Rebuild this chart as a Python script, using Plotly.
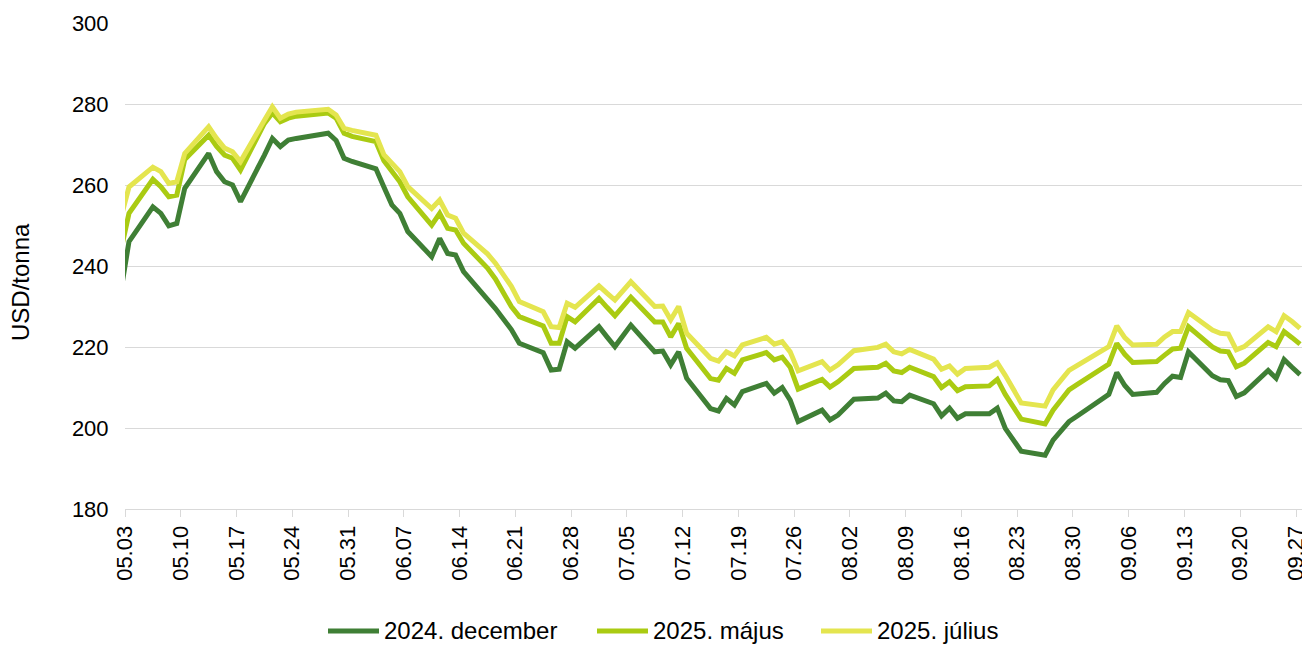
import pandas as pd
import plotly.graph_objects as go

dates = [
    "2024-05-02", "2024-05-03",
    "2024-05-06", "2024-05-07", "2024-05-08", "2024-05-09", "2024-05-10",
    "2024-05-13", "2024-05-14", "2024-05-15", "2024-05-16", "2024-05-17",
    "2024-05-20", "2024-05-21", "2024-05-22", "2024-05-23", "2024-05-24",
    "2024-05-28", "2024-05-29", "2024-05-30", "2024-05-31",
    "2024-06-03", "2024-06-04", "2024-06-05", "2024-06-06", "2024-06-07",
    "2024-06-10", "2024-06-11", "2024-06-12", "2024-06-13", "2024-06-14",
    "2024-06-17", "2024-06-18", "2024-06-20", "2024-06-21",
    "2024-06-24", "2024-06-25", "2024-06-26", "2024-06-27", "2024-06-28",
    "2024-07-01", "2024-07-02", "2024-07-03", "2024-07-05",
    "2024-07-08", "2024-07-09", "2024-07-10", "2024-07-11", "2024-07-12",
    "2024-07-15", "2024-07-16", "2024-07-17", "2024-07-18", "2024-07-19",
    "2024-07-22", "2024-07-23", "2024-07-24", "2024-07-25", "2024-07-26",
    "2024-07-29", "2024-07-30", "2024-07-31", "2024-08-01", "2024-08-02",
    "2024-08-05", "2024-08-06", "2024-08-07", "2024-08-08", "2024-08-09",
    "2024-08-12", "2024-08-13", "2024-08-14", "2024-08-15", "2024-08-16",
    "2024-08-19", "2024-08-20", "2024-08-21", "2024-08-22", "2024-08-23",
    "2024-08-26", "2024-08-27", "2024-08-28", "2024-08-29", "2024-08-30",
    "2024-09-03", "2024-09-04", "2024-09-05", "2024-09-06",
    "2024-09-09", "2024-09-10", "2024-09-11", "2024-09-12", "2024-09-13",
    "2024-09-16", "2024-09-17", "2024-09-18", "2024-09-19", "2024-09-20",
    "2024-09-23", "2024-09-24", "2024-09-25", "2024-09-26", "2024-09-27",
]

dec_2024 = [
    234.0, 246.0,
    254.6, 253.0, 249.9, 250.5, 259.2,
    267.8, 263.3, 260.8, 260.0, 255.9,
    267.4, 271.5, 269.5, 271.1, 271.5,
    272.8, 271.0, 266.6, 265.8,
    264.0, 259.5, 255.1, 253.0, 248.5,
    242.3, 246.8, 243.1, 242.7, 238.6,
    232.1, 229.5, 224.3, 220.9,
    218.6, 214.3, 214.5, 221.3, 219.7,
    225.0, 222.5, 220.1, 225.4,
    218.8, 219.0, 215.6, 218.8, 212.3,
    204.8, 204.2, 207.3, 205.7, 209.0,
    211.0, 208.6, 210.0, 206.9, 201.6,
    204.4, 202.0, 203.2, 205.2, 207.1,
    207.4, 208.6, 206.7, 206.5, 208.1,
    206.0, 203.0, 204.9, 202.4, 203.5,
    203.5, 204.9, 199.9, 197.2, 194.3,
    193.3, 197.0, 199.3, 201.6, 202.9,
    208.3, 213.7, 210.5, 208.3,
    208.8, 211.0, 212.8, 212.5, 218.8,
    212.9, 211.9, 211.7, 207.8, 208.7,
    214.2, 212.3, 216.9, 215.0, 213.2,
]

may_2025 = [
    244.0, 253.0,
    261.4, 259.6, 257.1, 257.5, 266.3,
    272.3, 269.5, 267.4, 266.6, 263.7,
    275.2, 277.8, 275.6, 276.5, 277.0,
    277.8, 276.5, 272.8, 272.0,
    270.7, 266.0, 263.3, 260.8, 257.1,
    250.1, 253.0, 249.3, 248.9, 245.6,
    239.5, 236.8, 230.0, 227.5,
    225.2, 220.9, 220.9, 227.5, 226.2,
    232.0, 229.8, 227.7, 232.3,
    226.2, 226.2, 222.5, 225.8, 219.7,
    212.2, 211.8, 214.7, 213.5, 216.8,
    218.6, 216.8, 217.5, 215.0, 209.6,
    212.0, 210.1, 211.4, 213.0, 214.7,
    215.0, 216.0, 214.1, 213.7, 215.0,
    212.7, 210.0, 211.4, 209.2, 210.2,
    210.4, 212.0, 208.3, 205.0, 202.2,
    201.0, 204.4, 206.9, 209.4, 210.7,
    215.8, 220.9, 218.2, 216.2,
    216.4, 218.0, 219.5, 219.7, 225.0,
    220.0, 219.0, 218.8, 215.1, 216.0,
    221.1, 220.1, 223.8, 222.3, 220.7,
]

jul_2025 = [
    252.0, 259.5,
    264.4, 263.3, 260.4, 260.8, 267.8,
    274.4, 271.5, 269.1, 268.2, 265.8,
    276.0, 279.3, 276.5, 277.5, 278.0,
    278.7, 277.3, 274.0, 273.5,
    272.3, 267.5, 265.4, 263.3, 259.6,
    254.2, 256.3, 252.6, 251.8, 248.1,
    243.0, 240.7, 235.0, 231.2,
    228.7, 225.0, 224.8, 230.8, 229.8,
    235.1, 233.3, 231.6, 236.1,
    230.0, 230.1, 226.7, 230.0, 223.4,
    217.2, 216.5, 218.8, 217.8, 220.5,
    222.4, 220.7, 221.3, 218.8, 214.1,
    216.4, 214.3, 215.6, 217.3, 219.1,
    219.9, 220.7, 218.8, 218.3, 219.4,
    217.0, 214.5, 215.3, 213.3, 214.7,
    215.0, 216.1, 213.0, 209.5, 206.2,
    205.4, 209.4, 211.8, 214.2, 215.4,
    220.1, 225.2, 222.3, 220.5,
    220.7, 222.5, 223.8, 223.8, 228.5,
    224.2, 223.4, 223.2, 219.3, 220.1,
    225.0, 223.8, 227.7, 226.3, 224.6,
]

series_names = ["2024. december", "2025. május", "2025. július"]
series_colors = ["#3F7F35", "#AACB12", "#E4E54F"]

tick_dates = pd.date_range("2024-05-03", "2024-09-27", freq="7D")
y_ticks = [180, 200, 220, 240, 260, 280, 300]

# Excel date axis places each day's point in the middle of its day
x = pd.to_datetime(dates) + pd.Timedelta(hours=12)

font_family = "Liberation Sans, Arial, sans-serif"

# the page body adds an 8px offset; the figure is sized to fit the window
OFF = 8
W, H = 1310 - OFF, 646 - OFF
L, T = 125 - OFF, 23 - OFF
R = W - (1304 - OFF)
B = H - (509 - OFF)
PW, PH = W - L - R, H - T - B


def px_x(page_x):
    return (page_x - OFF - L) / PW


def px_y(page_y):
    return (509 - page_y) / PH


fig = go.Figure()
for name, vals, col in zip(series_names, [dec_2024, may_2025, jul_2025], series_colors):
    fig.add_trace(go.Scatter(
        x=x, y=vals, name=name, mode="lines",
        line=dict(color=col, width=5),
        cliponaxis=True, showlegend=False,
    ))

# legend drawn in the reference's Excel style: long line key + label
legend_sym_x = [326, 595, 819]
legend_y = 630
shapes, annotations = [], []
for name, col, sx in zip(series_names, series_colors, legend_sym_x):
    shapes.append(dict(
        type="line", xref="paper", yref="paper",
        x0=px_x(sx + 2), x1=px_x(sx + 53), y0=px_y(legend_y + 1), y1=px_y(legend_y + 1),
        line=dict(color=col, width=5),
    ))
    annotations.append(dict(
        text=name, xref="paper", yref="paper",
        x=px_x(sx + 56), y=px_y(legend_y),
        xanchor="left", yanchor="middle", showarrow=False,
        font=dict(size=24, color="#000000"),
    ))

annotations.append(dict(
    text="USD/tonna", textangle=-90,
    xref="paper", yref="paper",
    x=px_x(20), y=px_y(282),
    xanchor="center", yanchor="middle",
    showarrow=False,
    font=dict(size=24, color="#000000"),
))

fig.update_layout(
    width=W, height=H,
    margin=dict(l=L, r=R, t=T, b=B, autoexpand=False),
    paper_bgcolor="white", plot_bgcolor="white",
    font=dict(family=font_family, size=22, color="#000000"),
    showlegend=False,
    xaxis=dict(
        type="date",
        range=["2024-05-03", "2024-09-28"],
        tickvals=tick_dates,
        ticktext=[d.strftime("%m.%d") for d in tick_dates],
        tickangle=-90,
        ticks="outside", ticklen=7, tickcolor="#D9D9D9", tickwidth=1,
        showline=True, linecolor="#D9D9D9", linewidth=1,
        showgrid=False, zeroline=False,
        tickfont=dict(size=22, color="#000000"),
        automargin=False,
    ),
    yaxis=dict(
        range=[180, 300],
        tickvals=y_ticks,
        showgrid=True, gridcolor="#D9D9D9", gridwidth=1,
        showline=False, zeroline=False,
        ticks="outside", ticklen=11, tickcolor="rgba(0,0,0,0)",
        tickfont=dict(size=22, color="#000000"),
        automargin=False,
    ),
    shapes=shapes,
    annotations=annotations,
)

fig.write_html("out.html")
